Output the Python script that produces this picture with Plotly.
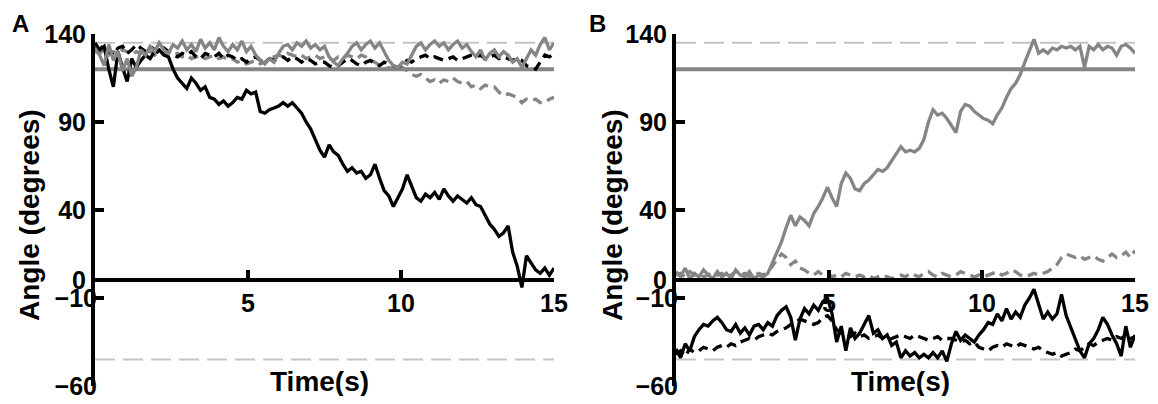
import plotly.graph_objects as go

# ---------------- data ----------------
time_s = [round(0.15 * i, 2) for i in range(101)]

a_black_solid = [135, 131, 133, 120, 110, 130, 121, 113, 126, 121,
                 125, 128, 126, 130, 131, 128, 127, 120, 115, 112,
                 109, 115, 112, 108, 110, 104, 103, 100, 102, 99,
                 101, 104, 103, 108, 106, 107, 96, 95, 97, 98,
                 99, 101, 99, 101, 98, 95, 90, 86, 80, 74,
                 70, 77, 73, 71, 66, 62, 64, 61, 62, 58,
                 60, 66, 58, 51, 48, 42, 47, 52, 60, 53,
                 47, 45, 49, 47, 50, 46, 52, 48, 45, 48,
                 46, 44, 47, 43, 42, 37, 32, 29, 25, 27,
                 31, 16, 8, -4, 14, 10, 6, 4, 7, 3, 7]
a_black_dash = [132, 131, 134, 130, 128, 132, 133, 129, 131, 134,
                132, 130, 133, 131, 129, 132, 130, 128, 127, 129,
                128, 130, 127, 126, 129, 128, 127, 129, 126, 128,
                127, 125, 126, 124, 126, 127, 125, 124, 126, 125,
                126, 127, 125, 127, 126, 124, 126, 125, 123, 124,
                124, 122, 121, 122, 124, 126, 125, 123, 122, 124,
                125, 123, 122, 124, 123, 122, 121, 123, 125, 124,
                126, 127, 128, 126, 127, 126, 125, 126, 127, 125,
                126, 127, 128, 127, 128, 126, 127, 128, 126, 127,
                126, 125, 126, 125, 122, 121, 120, 124, 128, 127, 129]
a_gray_solid = [132, 128, 122, 134, 125, 130, 119, 126, 116, 121,
                131, 128, 133, 130, 135, 131, 129, 134, 132, 136,
                131, 134, 130, 137, 132, 135, 131, 138, 133, 130,
                134, 131, 136, 130, 133, 128, 125, 123, 126, 124,
                129, 133, 134, 131, 135, 133, 136, 132, 134, 131,
                133, 127, 124, 122, 126, 129, 133, 135, 131, 134,
                136, 132, 135, 130, 125, 122, 121, 124, 123, 128,
                133, 135, 131, 134, 136, 133, 135, 131, 134, 136,
                132, 134, 130, 127, 131, 125, 129, 131, 127, 130,
                128, 124, 126, 121, 126, 131, 128, 134, 138, 131, 135]
a_gray_dash = [130, 129, 131, 128, 130, 129, 131, 130, 128, 130,
               129, 131, 130, 128, 130, 129, 127, 128, 129, 127,
               128, 126, 127, 128, 126, 127, 128, 126, 127, 125,
               126, 124, 125, 123, 124, 125, 123, 124, 126, 127,
               128, 127, 129, 128, 127, 128, 126, 127, 128, 126,
               127, 126, 125, 127, 126, 128, 127, 126, 128, 127,
               125, 124, 122, 120, 121, 120, 122, 121, 119, 117,
               116, 117, 115, 113, 114, 112, 114, 113, 115, 113,
               112, 113, 110, 111, 109, 111, 110, 110, 107, 105,
               106, 105, 104, 101, 103, 102, 103, 101, 101, 103, 104]

b_black_solid = [-39, -44, -36, -40, -32, -28, -25, -26, -23, -21,
                 -24, -28, -29, -25, -30, -27, -31, -26, -25, -28,
                 -24, -26, -20, -17, -15, -21, -34, -22, -16, -19,
                 -14, -17, -12, -10, -19, -35, -26, -40, -27, -33,
                 -30, -25, -20, -30, -28, -33, -31, -37, -35, -44,
                 -40, -43, -41, -44, -42, -44, -41, -44, -40, -46,
                 -36, -29, -34, -31, -33, -35, -31, -28, -24, -25,
                 -19, -23, -16, -22, -18, -21, -14, -10, -5, -14,
                 -22, -18, -22, -19, -8, -20, -27, -33, -40, -44,
                 -36, -33, -28, -21, -25, -31, -36, -43, -26, -38, -31]
b_black_dash = [-42, -40, -43, -39, -41, -40, -38, -39, -40, -38,
                -37, -38, -36, -37, -35, -34, -33, -34, -32, -31,
                -30, -31, -29, -28, -27, -25, -24, -22, -23, -24,
                -25, -24, -21, -20, -23, -28, -30, -31, -32, -30,
                -32, -31, -33, -32, -31, -33, -34, -33, -32, -31,
                -32, -33, -31, -32, -33, -34, -33, -32, -34, -33,
                -33, -34, -35, -34, -36, -35, -38, -39, -40, -38,
                -37, -38, -36, -37, -38, -36, -37, -38, -39, -38,
                -40, -41, -42, -41, -43, -42, -41, -39, -40, -38,
                -36, -37, -35, -34, -33, -34, -32, -33, -31, -33, -32]
b_gray_solid = [5, 2, 7, 1, 4, 2, 6, 3, 1, 5,
                2, 4, 1, 6, 3, 2, 5, 1, 3, 2,
                4, 10, 16, 22, 30, 37, 31, 36, 34, 31,
                38, 42, 47, 53, 47, 42, 55, 61, 58, 52,
                51, 55, 57, 60, 63, 62, 64, 68, 72, 76,
                73, 74, 73, 75, 80, 90, 97, 94, 95, 92,
                88, 84, 96, 100, 99, 96, 94, 92, 91, 89,
                94, 98, 104, 109, 112, 117, 124, 130, 137, 129,
                131, 129, 132, 131, 133, 132, 133, 131, 133, 121,
                133, 131, 134, 131, 133, 132, 128, 133, 134, 132, 129]
b_gray_dash = [3, 4, 2, 5, 3, 4, 2, 3, 5, 3,
               4, 2, 3, 5, 3, 4, 2, 3, 4, 3,
               5, 8, 12, 15, 13, 9, 11, 7, 6, 4,
               3, 5, 3, 4, 2, 3, 2, 4, 3, 2,
               3, 2, 3, 1, 2, 3, 2, 1, 2, 3,
               2, 4, 3, 2, 4, 5, 3, 2, 4, 3,
               2, 3, 5, 4, 3, 2, 3, 2, 3, 4,
               5, 3, 4, 6, 5, 3, 2, 3, 4, 3,
               4, 5, 7, 9, 13, 15, 14, 13, 14, 12,
               13, 14, 12, 11, 13, 15, 13, 14, 16, 13, 17]

ref_time = [0, 15]
ref_dashed = [135, -45]
ref_solid = 120

y_ticks_upper = [140, 90, 40, 0]
y_ticks_lower = [-10, -60]
x_ticks = [5, 10, 15]
y_range = [-60, 140]
x_range = [0, 15]

# ---------------- layout helpers ----------------
# the page body has an 8px margin; the figure is sized to fit the window exactly
OFF = 8
W, H = 1158 - 2 * OFF, 404 - 2 * OFF
FONT = "Liberation Sans"
BLACK = "#000000"
GRAY = "#858585"
LIGHT = "#c4c4c4"


def px_x(p):
    return (p - OFF) / W


def px_y(p):
    return 1 - (p - OFF) / H


yb = px_y(386)
yt = px_y(34)
zero_pos = yb + (0 - y_range[0]) / (y_range[1] - y_range[0]) * (yt - yb)

panels = [
    dict(dom=[px_x(95), px_x(554)],
         series=[(a_gray_dash, GRAY, "10px,6px"), (a_black_dash, BLACK, "10px,6px"),
                 (a_black_solid, BLACK, "solid"), (a_gray_solid, GRAY, "solid")]),
    dict(dom=[px_x(676), px_x(1135)],
         series=[(b_gray_dash, GRAY, "10px,6px"), (b_black_dash, BLACK, "10px,6px"),
                 (b_black_solid, BLACK, "solid"), (b_gray_solid, GRAY, "solid")]),
]

fig = go.Figure()
layout = dict(template="none", width=W, height=H, margin=dict(l=0, r=0, t=0, b=0, pad=0),
              paper_bgcolor="white", plot_bgcolor="white", showlegend=False)

tickfont = dict(family=FONT, size=25, color=BLACK, weight="bold")

for k, p in enumerate(panels):
    xa = "x" if k == 0 else "x2"
    ya = "y" if k == 0 else "y3"
    ya_low = "y2" if k == 0 else "y4"
    xkey = "xaxis" if k == 0 else "xaxis2"
    ykey = "yaxis" if k == 0 else "yaxis3"
    ylkey = "yaxis2" if k == 0 else "yaxis4"

    for v in ref_dashed:
        fig.add_trace(go.Scatter(x=ref_time, y=[v, v], mode="lines", xaxis=xa, yaxis=ya,
                                 line=dict(color=LIGHT, width=2, dash="20px,8px"),
                                 hoverinfo="skip"))
    fig.add_trace(go.Scatter(x=ref_time, y=[ref_solid, ref_solid], mode="lines", xaxis=xa, yaxis=ya,
                             line=dict(color=GRAY, width=4), hoverinfo="skip"))
    for vals, col, dash in p["series"]:
        fig.add_trace(go.Scatter(x=time_s, y=vals, mode="lines", xaxis=xa, yaxis=ya,
                                 line=dict(color=col, width=3.3, dash=dash)))
    fig.add_trace(go.Scatter(x=[0], y=[0], mode="markers", xaxis=xa, yaxis=ya_low,
                             marker=dict(opacity=0), hoverinfo="skip"))

    layout[xkey] = dict(domain=p["dom"], range=x_range, anchor="free", position=zero_pos,
                        automargin=False, ticklabeloverflow="allow",
                        showline=True, linewidth=4, linecolor=BLACK, showgrid=False, zeroline=False,
                        ticks="inside", ticklen=8, tickwidth=4, tickcolor=BLACK,
                        tickvals=x_ticks, ticktext=[str(v) for v in x_ticks],
                        tickfont=tickfont)
    layout[ykey] = dict(domain=[yb, yt], range=y_range, anchor=xa, automargin=False,
                        ticklabeloverflow="allow",
                        showline=True, linewidth=4, linecolor=BLACK, showgrid=False, zeroline=False,
                        ticks="inside", ticklen=9, tickwidth=4, tickcolor=BLACK,
                        tickvals=y_ticks_upper, ticktext=[str(v) for v in y_ticks_upper],
                        tickfont=tickfont)
    layout[ylkey] = dict(range=y_range, overlaying=ya, anchor=xa, side="left", automargin=False,
                         ticklabeloverflow="allow",
                         showline=False, showgrid=False, zeroline=False,
                         ticks="inside", ticklen=9, tickwidth=4, tickcolor=BLACK,
                         tickvals=y_ticks_lower,
                         ticktext=["\u2212" + str(abs(v)) for v in y_ticks_lower],
                         tickfont=tickfont, ticklabelstandoff=-3)

annots = []
for letter, lx, ax_x, tx in [("A", 20, 29, 320), ("B", 597, 612, 900)]:
    common = dict(xref="paper", yref="paper", showarrow=False, xanchor="center", yanchor="middle")
    annots.append(dict(text=letter, x=px_x(lx), y=px_y(24), **common,
                       font=dict(family=FONT, size=24, color=BLACK, weight="bold")))
    annots.append(dict(text="Angle (degrees)", x=px_x(ax_x), y=px_y(215), textangle=-90, **common,
                       font=dict(family=FONT, size=28, color=BLACK, weight="bold")))
    annots.append(dict(text="Time(s)", x=px_x(tx), y=px_y(381), **common,
                       font=dict(family=FONT, size=28, color=BLACK, weight="bold")))
layout["annotations"] = annots

fig.update_layout(**layout)
fig.write_html("out.html")
